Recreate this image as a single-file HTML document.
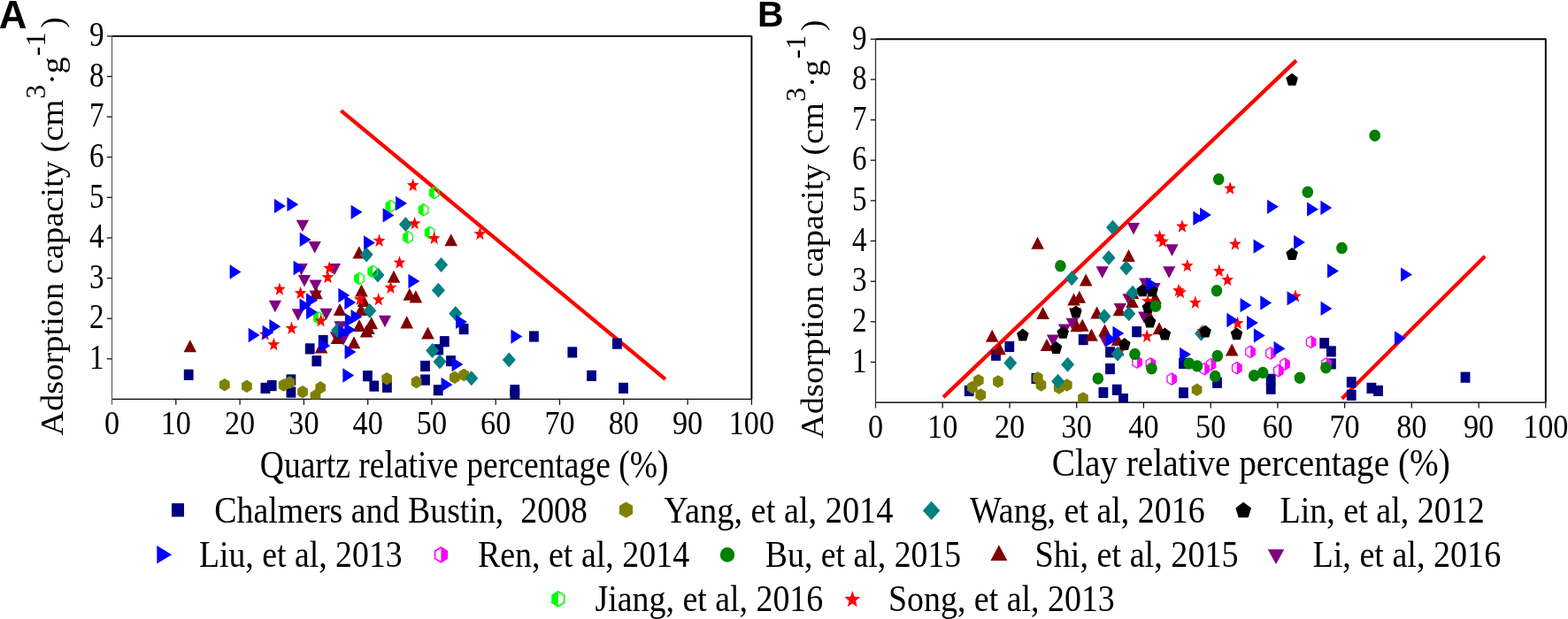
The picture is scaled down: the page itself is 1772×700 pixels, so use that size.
<!DOCTYPE html><html><head><meta charset="utf-8"><style>html,body{margin:0;padding:0;background:#fff}svg{display:block}</style></head><body><svg width="1772" height="700" viewBox="0 0 1772 700" font-family="'Liberation Serif','Times New Roman',serif">
<rect width="1772" height="700" fill="#fff"/>
<path d="M126.5 40.9 H849.4 V451.4" fill="none" stroke="#000" stroke-width="1.9" stroke-linejoin="round"/>
<path d="M126.5 451.4 H849.4" stroke="#000" stroke-width="1.1"/>
<path d="M126.5 40.9 V451.4" stroke="#666" stroke-width="1.3"/>
<path d="M120.8 405.8 H126.5" stroke="#111" stroke-width="1.3"/>
<path d="M120.8 360.2 H126.5" stroke="#111" stroke-width="1.3"/>
<path d="M120.8 314.6 H126.5" stroke="#111" stroke-width="1.3"/>
<path d="M120.8 269.0 H126.5" stroke="#111" stroke-width="1.3"/>
<path d="M120.8 223.3 H126.5" stroke="#111" stroke-width="1.3"/>
<path d="M120.8 177.7 H126.5" stroke="#111" stroke-width="1.3"/>
<path d="M120.8 132.1 H126.5" stroke="#111" stroke-width="1.3"/>
<path d="M120.8 86.5 H126.5" stroke="#111" stroke-width="1.3"/>
<path d="M120.8 40.9 H126.5" stroke="#111" stroke-width="1.3"/>
<path d="M126.5 451.4 V457.8" stroke="#666" stroke-width="1.3"/>
<path d="M198.8 451.4 V457.8" stroke="#111" stroke-width="1.3"/>
<path d="M271.1 451.4 V457.8" stroke="#111" stroke-width="1.3"/>
<path d="M343.4 451.4 V457.8" stroke="#111" stroke-width="1.3"/>
<path d="M415.7 451.4 V457.8" stroke="#111" stroke-width="1.3"/>
<path d="M487.9 451.4 V457.8" stroke="#111" stroke-width="1.3"/>
<path d="M560.2 451.4 V457.8" stroke="#111" stroke-width="1.3"/>
<path d="M632.5 451.4 V457.8" stroke="#111" stroke-width="1.3"/>
<path d="M704.8 451.4 V457.8" stroke="#111" stroke-width="1.3"/>
<path d="M777.1 451.4 V457.8" stroke="#111" stroke-width="1.3"/>
<path d="M849.4 451.4 V457.8" stroke="#111" stroke-width="1.3"/>
<text x="117.5" y="417.1" text-anchor="end" font-size="39.5" transform-origin="117.5 405.8" transform="scale(0.84,1)">1</text>
<text x="117.5" y="371.5" text-anchor="end" font-size="39.5" transform-origin="117.5 360.2" transform="scale(0.84,1)">2</text>
<text x="117.5" y="325.9" text-anchor="end" font-size="39.5" transform-origin="117.5 314.6" transform="scale(0.84,1)">3</text>
<text x="117.5" y="280.3" text-anchor="end" font-size="39.5" transform-origin="117.5 269.0" transform="scale(0.84,1)">4</text>
<text x="117.5" y="234.6" text-anchor="end" font-size="39.5" transform-origin="117.5 223.3" transform="scale(0.84,1)">5</text>
<text x="117.5" y="189.0" text-anchor="end" font-size="39.5" transform-origin="117.5 177.7" transform="scale(0.84,1)">6</text>
<text x="117.5" y="143.4" text-anchor="end" font-size="39.5" transform-origin="117.5 132.1" transform="scale(0.84,1)">7</text>
<text x="117.5" y="97.8" text-anchor="end" font-size="39.5" transform-origin="117.5 86.5" transform="scale(0.84,1)">8</text>
<text x="117.5" y="52.2" text-anchor="end" font-size="39.5" transform-origin="117.5 40.9" transform="scale(0.84,1)">9</text>
<text x="126.5" y="491" text-anchor="middle" font-size="38" transform-origin="126.5 491" transform="scale(0.9,1)">0</text>
<text x="198.8" y="491" text-anchor="middle" font-size="38" transform-origin="198.8 491" transform="scale(0.9,1)">10</text>
<text x="271.1" y="491" text-anchor="middle" font-size="38" transform-origin="271.1 491" transform="scale(0.9,1)">20</text>
<text x="343.4" y="491" text-anchor="middle" font-size="38" transform-origin="343.4 491" transform="scale(0.9,1)">30</text>
<text x="415.7" y="491" text-anchor="middle" font-size="38" transform-origin="415.7 491" transform="scale(0.9,1)">40</text>
<text x="487.9" y="491" text-anchor="middle" font-size="38" transform-origin="487.9 491" transform="scale(0.9,1)">50</text>
<text x="560.2" y="491" text-anchor="middle" font-size="38" transform-origin="560.2 491" transform="scale(0.9,1)">60</text>
<text x="632.5" y="491" text-anchor="middle" font-size="38" transform-origin="632.5 491" transform="scale(0.9,1)">70</text>
<text x="704.8" y="491" text-anchor="middle" font-size="38" transform-origin="704.8 491" transform="scale(0.9,1)">80</text>
<text x="777.1" y="491" text-anchor="middle" font-size="38" transform-origin="777.1 491" transform="scale(0.9,1)">90</text>
<text x="849.4" y="491" text-anchor="middle" font-size="38" transform-origin="849.4 491" transform="scale(0.9,1)">100</text>
<path d="M989.5 44.3 H1746.8 V455.1" fill="none" stroke="#000" stroke-width="1.9" stroke-linejoin="round"/>
<path d="M989.5 455.1 H1746.8" stroke="#333" stroke-width="1.7"/>
<path d="M989.5 44.3 V455.1" stroke="#333" stroke-width="1.3"/>
<path d="M983.8 409.5 H989.5" stroke="#111" stroke-width="1.3"/>
<path d="M983.8 363.8 H989.5" stroke="#111" stroke-width="1.3"/>
<path d="M983.8 318.2 H989.5" stroke="#111" stroke-width="1.3"/>
<path d="M983.8 272.5 H989.5" stroke="#111" stroke-width="1.3"/>
<path d="M983.8 226.9 H989.5" stroke="#111" stroke-width="1.3"/>
<path d="M983.8 181.2 H989.5" stroke="#111" stroke-width="1.3"/>
<path d="M983.8 135.6 H989.5" stroke="#111" stroke-width="1.3"/>
<path d="M983.8 89.9 H989.5" stroke="#111" stroke-width="1.3"/>
<path d="M983.8 44.3 H989.5" stroke="#111" stroke-width="1.3"/>
<path d="M989.5 455.1 V461.5" stroke="#333" stroke-width="1.3"/>
<path d="M1065.2 455.1 V461.5" stroke="#111" stroke-width="1.3"/>
<path d="M1141.0 455.1 V461.5" stroke="#111" stroke-width="1.3"/>
<path d="M1216.7 455.1 V461.5" stroke="#111" stroke-width="1.3"/>
<path d="M1292.4 455.1 V461.5" stroke="#111" stroke-width="1.3"/>
<path d="M1368.2 455.1 V461.5" stroke="#111" stroke-width="1.3"/>
<path d="M1443.9 455.1 V461.5" stroke="#111" stroke-width="1.3"/>
<path d="M1519.6 455.1 V461.5" stroke="#111" stroke-width="1.3"/>
<path d="M1595.3 455.1 V461.5" stroke="#111" stroke-width="1.3"/>
<path d="M1671.1 455.1 V461.5" stroke="#111" stroke-width="1.3"/>
<path d="M1746.8 455.1 V461.5" stroke="#111" stroke-width="1.3"/>
<text x="979.5" y="420.8" text-anchor="end" font-size="39.5" transform-origin="979.5 409.5" transform="scale(0.84,1)">1</text>
<text x="979.5" y="375.1" text-anchor="end" font-size="39.5" transform-origin="979.5 363.8" transform="scale(0.84,1)">2</text>
<text x="979.5" y="329.5" text-anchor="end" font-size="39.5" transform-origin="979.5 318.2" transform="scale(0.84,1)">3</text>
<text x="979.5" y="283.8" text-anchor="end" font-size="39.5" transform-origin="979.5 272.5" transform="scale(0.84,1)">4</text>
<text x="979.5" y="238.2" text-anchor="end" font-size="39.5" transform-origin="979.5 226.9" transform="scale(0.84,1)">5</text>
<text x="979.5" y="192.5" text-anchor="end" font-size="39.5" transform-origin="979.5 181.2" transform="scale(0.84,1)">6</text>
<text x="979.5" y="146.9" text-anchor="end" font-size="39.5" transform-origin="979.5 135.6" transform="scale(0.84,1)">7</text>
<text x="979.5" y="101.2" text-anchor="end" font-size="39.5" transform-origin="979.5 89.9" transform="scale(0.84,1)">8</text>
<text x="979.5" y="55.6" text-anchor="end" font-size="39.5" transform-origin="979.5 44.3" transform="scale(0.84,1)">9</text>
<text x="989.5" y="495" text-anchor="middle" font-size="38" transform-origin="989.5 495" transform="scale(0.9,1)">0</text>
<text x="1065.2" y="495" text-anchor="middle" font-size="38" transform-origin="1065.2 495" transform="scale(0.9,1)">10</text>
<text x="1141.0" y="495" text-anchor="middle" font-size="38" transform-origin="1141.0 495" transform="scale(0.9,1)">20</text>
<text x="1216.7" y="495" text-anchor="middle" font-size="38" transform-origin="1216.7 495" transform="scale(0.9,1)">30</text>
<text x="1292.4" y="495" text-anchor="middle" font-size="38" transform-origin="1292.4 495" transform="scale(0.9,1)">40</text>
<text x="1368.2" y="495" text-anchor="middle" font-size="38" transform-origin="1368.2 495" transform="scale(0.9,1)">50</text>
<text x="1443.9" y="495" text-anchor="middle" font-size="38" transform-origin="1443.9 495" transform="scale(0.9,1)">60</text>
<text x="1519.6" y="495" text-anchor="middle" font-size="38" transform-origin="1519.6 495" transform="scale(0.9,1)">70</text>
<text x="1595.3" y="495" text-anchor="middle" font-size="38" transform-origin="1595.3 495" transform="scale(0.9,1)">80</text>
<text x="1671.1" y="495" text-anchor="middle" font-size="38" transform-origin="1671.1 495" transform="scale(0.9,1)">90</text>
<text x="1746.8" y="495" text-anchor="middle" font-size="38" transform-origin="1746.8 495" transform="scale(0.9,1)">100</text>
<text x="-1.2" y="31.6" font-family="'Liberation Sans',Arial,sans-serif" font-weight="bold" font-size="43.8">A</text>
<text x="856" y="29.6" font-family="'Liberation Sans',Arial,sans-serif" font-weight="bold" font-size="41">B</text>
<text x="293.8" y="540.2" xml:space="preserve" font-size="44" textLength="461.8" lengthAdjust="spacingAndGlyphs">Quartz relative percentage (%)</text>
<text x="1188.8" y="538" xml:space="preserve" font-size="44" textLength="450" lengthAdjust="spacingAndGlyphs">Clay relative percentage (%)</text>
<g transform="translate(70.9,492.7) rotate(-90) scale(1,0.97)">
<text x="0" y="0" font-size="37.5" textLength="380" lengthAdjust="spacingAndGlyphs">Adsorption capacity (cm</text>
<text x="381" y="-20.6" font-size="32">3</text>
<text x="397" y="0" font-size="37.5">·g</text>
<text x="429.5" y="-20.6" font-size="32">-1</text>
<text x="461" y="0" font-size="37.5">)</text>
</g>
<g transform="translate(930.4,496) rotate(-90) scale(1,0.97)">
<text x="0" y="0" font-size="37.5" textLength="380" lengthAdjust="spacingAndGlyphs">Adsorption capacity (cm</text>
<text x="381" y="-20.6" font-size="32">3</text>
<text x="397" y="0" font-size="37.5">·g</text>
<text x="429.5" y="-20.6" font-size="32">-1</text>
<text x="461" y="0" font-size="37.5">)</text>
</g>
<text x="242.2" y="590.7" xml:space="preserve" font-size="42.5" textLength="421.8" lengthAdjust="spacingAndGlyphs">Chalmers and Bustin,  2008</text>
<text x="750.2" y="590.7" xml:space="preserve" font-size="42.5" textLength="259.3" lengthAdjust="spacingAndGlyphs">Yang, et al, 2014</text>
<text x="1096" y="590.7" xml:space="preserve" font-size="42.5" textLength="265.7" lengthAdjust="spacingAndGlyphs">Wang, et al, 2016</text>
<text x="1446.5" y="590.7" xml:space="preserve" font-size="42.5" textLength="231.4" lengthAdjust="spacingAndGlyphs">Lin, et al, 2012</text>
<text x="224.9" y="640.9" xml:space="preserve" font-size="42.5" textLength="229.8" lengthAdjust="spacingAndGlyphs">Liu, et al, 2013</text>
<text x="539.9" y="640.9" xml:space="preserve" font-size="42.5" textLength="239.3" lengthAdjust="spacingAndGlyphs">Ren, et al, 2014</text>
<text x="864.8" y="640.9" xml:space="preserve" font-size="42.5" textLength="221.4" lengthAdjust="spacingAndGlyphs">Bu, et al, 2015</text>
<text x="1169.5" y="640.9" xml:space="preserve" font-size="42.5" textLength="230.2" lengthAdjust="spacingAndGlyphs">Shi, et al, 2015</text>
<text x="1483.5" y="640.9" xml:space="preserve" font-size="42.5" textLength="212.7" lengthAdjust="spacingAndGlyphs">Li, et al, 2016</text>
<text x="672.5" y="690.7" xml:space="preserve" font-size="42.5" textLength="257.7" lengthAdjust="spacingAndGlyphs">Jiang, et al, 2016</text>
<text x="1004" y="690.7" xml:space="preserve" font-size="42.5" textLength="255.8" lengthAdjust="spacingAndGlyphs">Song, et al, 2013</text>
<clipPath id="cA"><rect x="126" y="40" width="724" height="411.4"/></clipPath><clipPath id="cB"><rect x="989" y="44" width="758" height="411.1"/></clipPath>
<g clip-path="url(#cA)">
<polygon points="334.75,248.65 349.05,248.65 341.90,262.15" fill="#800080"/>
<polygon points="348.55,273.05 362.85,273.05 355.70,286.55" fill="#800080"/>
<polygon points="333.45,298.05 347.75,298.05 340.60,311.55" fill="#800080"/>
<polygon points="370.75,298.05 385.05,298.05 377.90,311.55" fill="#800080"/>
<polygon points="336.85,311.05 351.15,311.05 344.00,324.55" fill="#800080"/>
<polygon points="349.45,316.45 363.75,316.45 356.60,329.95" fill="#800080"/>
<polygon points="349.45,328.45 363.75,328.45 356.60,341.95" fill="#800080"/>
<polygon points="303.75,339.85 318.05,339.85 310.90,353.35" fill="#800080"/>
<polygon points="329.65,349.25 343.95,349.25 336.80,362.75" fill="#800080"/>
<polygon points="361.45,348.65 375.75,348.65 368.60,362.15" fill="#800080"/>
<polygon points="377.35,363.25 391.65,363.25 384.50,376.75" fill="#800080"/>
<polygon points="372.85,375.25 387.15,375.25 380.00,388.75" fill="#800080"/>
<polygon points="380.85,377.25 395.15,377.25 388.00,390.75" fill="#800080"/>
<polygon points="427.85,356.85 442.15,356.85 435.00,370.35" fill="#800080"/>
</g>
<g clip-path="url(#cB)">
<polygon points="1273.85,251.95 1288.15,251.95 1281.00,265.45" fill="#800080"/>
<polygon points="1317.35,276.25 1331.65,276.25 1324.50,289.75" fill="#800080"/>
<polygon points="1314.05,301.35 1328.35,301.35 1321.20,314.85" fill="#800080"/>
<polygon points="1238.55,301.35 1252.85,301.35 1245.70,314.85" fill="#800080"/>
<polygon points="1287.05,314.45 1301.35,314.45 1294.20,327.95" fill="#800080"/>
<polygon points="1297.35,319.95 1311.65,319.95 1304.50,333.45" fill="#800080"/>
<polygon points="1204.65,359.85 1218.95,359.85 1211.80,373.35" fill="#800080"/>
<polygon points="1195.85,366.45 1210.15,366.45 1203.00,379.95" fill="#800080"/>
<polygon points="1182.85,378.45 1197.15,378.45 1190.00,391.95" fill="#800080"/>
<polygon points="1207.85,348.25 1222.15,348.25 1215.00,361.75" fill="#800080"/>
<polygon points="1258.65,343.05 1272.95,343.05 1265.80,356.55" fill="#800080"/>
<polygon points="1268.35,332.25 1282.65,332.25 1275.50,345.75" fill="#800080"/>
<polygon points="1286.05,352.45 1300.35,352.45 1293.20,365.95" fill="#800080"/>
<polygon points="1241.85,379.25 1256.15,379.25 1249.00,392.75" fill="#800080"/>
</g>
<path d="M385.4 125.1 L751.9 428.9" stroke="#ff0000" stroke-width="4.3"/>
<path d="M1066.1 449.1 L1464.9 68.4" stroke="#ff0000" stroke-width="4.3"/>
<path d="M1516.6 450.7 L1678.2 289.7" stroke="#ff0000" stroke-width="4.3"/>
<g clip-path="url(#cA)">
<rect x="207.80" y="417.70" width="10.80" height="12.20" fill="#000080"/>
<rect x="294.50" y="432.80" width="10.80" height="12.20" fill="#000080"/>
<rect x="301.80" y="430.00" width="10.80" height="12.20" fill="#000080"/>
<rect x="323.50" y="423.40" width="10.80" height="12.20" fill="#000080"/>
<rect x="323.50" y="437.50" width="10.80" height="12.20" fill="#000080"/>
<rect x="344.80" y="388.30" width="10.80" height="12.20" fill="#000080"/>
<rect x="352.40" y="402.10" width="10.80" height="12.20" fill="#000080"/>
<rect x="359.80" y="378.90" width="10.80" height="12.20" fill="#000080"/>
<rect x="410.00" y="419.10" width="10.80" height="12.20" fill="#000080"/>
<rect x="417.40" y="430.50" width="10.80" height="12.20" fill="#000080"/>
<rect x="432.00" y="431.70" width="10.80" height="12.20" fill="#000080"/>
<rect x="475.10" y="407.90" width="10.80" height="12.20" fill="#000080"/>
<rect x="475.10" y="423.50" width="10.80" height="12.20" fill="#000080"/>
<rect x="490.30" y="389.20" width="10.80" height="12.20" fill="#000080"/>
<rect x="496.90" y="380.10" width="10.80" height="12.20" fill="#000080"/>
<rect x="504.10" y="402.10" width="10.80" height="12.20" fill="#000080"/>
<rect x="489.80" y="435.10" width="10.80" height="12.20" fill="#000080"/>
<rect x="518.70" y="366.00" width="10.80" height="12.20" fill="#000080"/>
<rect x="576.40" y="435.00" width="10.80" height="12.20" fill="#000080"/>
<rect x="576.40" y="439.00" width="10.80" height="12.20" fill="#000080"/>
<rect x="598.00" y="374.40" width="10.80" height="12.20" fill="#000080"/>
<rect x="641.40" y="392.30" width="10.80" height="12.20" fill="#000080"/>
<rect x="663.10" y="418.80" width="10.80" height="12.20" fill="#000080"/>
<rect x="692.00" y="382.50" width="10.80" height="12.20" fill="#000080"/>
<rect x="699.10" y="432.80" width="10.80" height="12.20" fill="#000080"/>
<polygon points="253.80,427.90 259.65,431.55 259.65,438.85 253.80,442.50 247.95,438.85 247.95,431.55" fill="#808000"/>
<polygon points="278.90,429.50 284.75,433.15 284.75,440.45 278.90,444.10 273.05,440.45 273.05,433.15" fill="#808000"/>
<polygon points="320.60,428.20 326.45,431.85 326.45,439.15 320.60,442.80 314.75,439.15 314.75,431.85" fill="#808000"/>
<polygon points="327.40,425.20 333.25,428.85 333.25,436.15 327.40,439.80 321.55,436.15 321.55,428.85" fill="#808000"/>
<polygon points="342.00,435.90 347.85,439.55 347.85,446.85 342.00,450.50 336.15,446.85 336.15,439.55" fill="#808000"/>
<polygon points="356.50,440.30 362.35,443.95 362.35,451.25 356.50,454.90 350.65,451.25 350.65,443.95" fill="#808000"/>
<polygon points="362.20,431.00 368.05,434.65 368.05,441.95 362.20,445.60 356.35,441.95 356.35,434.65" fill="#808000"/>
<polygon points="437.20,420.90 443.05,424.55 443.05,431.85 437.20,435.50 431.35,431.85 431.35,424.55" fill="#808000"/>
<polygon points="470.60,424.70 476.45,428.35 476.45,435.65 470.60,439.30 464.75,435.65 464.75,428.35" fill="#808000"/>
<polygon points="513.80,419.50 519.65,423.15 519.65,430.45 513.80,434.10 507.95,430.45 507.95,423.15" fill="#808000"/>
<polygon points="524.20,416.70 530.05,420.35 530.05,427.65 524.20,431.30 518.35,427.65 518.35,420.35" fill="#808000"/>
<polygon points="214.80,384.15 222.10,398.25 207.50,398.25" fill="#800000"/>
<polygon points="357.50,324.15 364.80,338.25 350.20,338.25" fill="#800000"/>
<polygon points="363.00,385.45 370.30,399.55 355.70,399.55" fill="#800000"/>
<polygon points="384.00,342.95 391.30,357.05 376.70,357.05" fill="#800000"/>
<polygon points="381.00,374.95 388.30,389.05 373.70,389.05" fill="#800000"/>
<polygon points="400.00,380.15 407.30,394.25 392.70,394.25" fill="#800000"/>
<polygon points="405.80,278.35 413.10,292.45 398.50,292.45" fill="#800000"/>
<polygon points="408.50,321.45 415.80,335.55 401.20,335.55" fill="#800000"/>
<polygon points="411.00,332.95 418.30,347.05 403.70,347.05" fill="#800000"/>
<polygon points="408.00,342.95 415.30,357.05 400.70,357.05" fill="#800000"/>
<polygon points="406.00,360.95 413.30,375.05 398.70,375.05" fill="#800000"/>
<polygon points="419.80,358.15 427.10,372.25 412.50,372.25" fill="#800000"/>
<polygon points="414.00,367.45 421.30,381.55 406.70,381.55" fill="#800000"/>
<polygon points="416.50,363.95 423.80,378.05 409.20,378.05" fill="#800000"/>
<polygon points="445.00,305.75 452.30,319.85 437.70,319.85" fill="#800000"/>
<polygon points="459.70,357.35 467.00,371.45 452.40,371.45" fill="#800000"/>
<polygon points="462.80,325.75 470.10,339.85 455.50,339.85" fill="#800000"/>
<polygon points="469.90,328.35 477.20,342.45 462.60,342.45" fill="#800000"/>
<polygon points="483.50,369.45 490.80,383.55 476.20,383.55" fill="#800000"/>
<polygon points="509.70,264.25 517.00,278.35 502.40,278.35" fill="#800000"/>
<polygon points="414.20,279.40 421.70,287.90 414.20,296.40 406.70,287.90" fill="#008080"/>
<polygon points="427.00,302.50 434.50,311.00 427.00,319.50 419.50,311.00" fill="#008080"/>
<polygon points="458.40,245.20 465.90,253.70 458.40,262.20 450.90,253.70" fill="#008080"/>
<polygon points="381.50,365.00 389.00,373.50 381.50,382.00 374.00,373.50" fill="#008080"/>
<polygon points="417.80,343.00 425.30,351.50 417.80,360.00 410.30,351.50" fill="#008080"/>
<polygon points="488.60,388.00 496.10,396.50 488.60,405.00 481.10,396.50" fill="#008080"/>
<polygon points="497.00,400.50 504.50,409.00 497.00,417.50 489.50,409.00" fill="#008080"/>
<polygon points="498.60,291.10 506.10,299.60 498.60,308.10 491.10,299.60" fill="#008080"/>
<polygon points="495.40,319.80 502.90,328.30 495.40,336.80 487.90,328.30" fill="#008080"/>
<polygon points="514.80,346.10 522.30,354.60 514.80,363.10 507.30,354.60" fill="#008080"/>
<polygon points="532.80,419.30 540.30,427.80 532.80,436.30 525.30,427.80" fill="#008080"/>
<polygon points="575.30,398.60 582.80,407.10 575.30,415.60 567.80,407.10" fill="#008080"/>
<polygon points="360.00,352.80 360.00,366.20 354.75,362.85 354.75,356.15" fill="#00ff00"/><polygon points="360.00,352.80 365.25,356.15 365.25,362.85 360.00,366.20 354.75,362.85 354.75,356.15" fill="none" stroke="#00ff00" stroke-width="1.30" stroke-linejoin="round"/>
<polygon points="406.00,308.20 406.00,321.60 400.75,318.25 400.75,311.55" fill="#00ff00"/><polygon points="406.00,308.20 411.25,311.55 411.25,318.25 406.00,321.60 400.75,318.25 400.75,311.55" fill="none" stroke="#00ff00" stroke-width="1.30" stroke-linejoin="round"/>
<polygon points="421.20,300.20 421.20,313.60 415.95,310.25 415.95,303.55" fill="#00ff00"/><polygon points="421.20,300.20 426.45,303.55 426.45,310.25 421.20,313.60 415.95,310.25 415.95,303.55" fill="none" stroke="#00ff00" stroke-width="1.30" stroke-linejoin="round"/>
<polygon points="441.40,226.50 441.40,239.90 436.15,236.55 436.15,229.85" fill="#00ff00"/><polygon points="441.40,226.50 446.65,229.85 446.65,236.55 441.40,239.90 436.15,236.55 436.15,229.85" fill="none" stroke="#00ff00" stroke-width="1.30" stroke-linejoin="round"/>
<polygon points="461.00,261.60 461.00,275.00 455.75,271.65 455.75,264.95" fill="#00ff00"/><polygon points="461.00,261.60 466.25,264.95 466.25,271.65 461.00,275.00 455.75,271.65 455.75,264.95" fill="none" stroke="#00ff00" stroke-width="1.30" stroke-linejoin="round"/>
<polygon points="478.60,230.60 478.60,244.00 473.35,240.65 473.35,233.95" fill="#00ff00"/><polygon points="478.60,230.60 483.85,233.95 483.85,240.65 478.60,244.00 473.35,240.65 473.35,233.95" fill="none" stroke="#00ff00" stroke-width="1.30" stroke-linejoin="round"/>
<polygon points="485.60,256.40 485.60,269.80 480.35,266.45 480.35,259.75" fill="#00ff00"/><polygon points="485.60,256.40 490.85,259.75 490.85,266.45 485.60,269.80 480.35,266.45 480.35,259.75" fill="none" stroke="#00ff00" stroke-width="1.30" stroke-linejoin="round"/>
<polygon points="490.70,211.20 490.70,224.60 485.45,221.25 485.45,214.55" fill="#00ff00"/><polygon points="490.70,211.20 495.95,214.55 495.95,221.25 490.70,224.60 485.45,221.25 485.45,214.55" fill="none" stroke="#00ff00" stroke-width="1.30" stroke-linejoin="round"/>
<polygon points="299.50,370.20 301.28,375.53 306.35,375.78 302.38,379.32 303.73,384.80 299.50,381.66 295.27,384.80 296.62,379.32 292.65,375.78 297.72,375.53" fill="#ff0000"/>
<polygon points="309.40,381.70 311.18,387.03 316.25,387.28 312.28,390.82 313.63,396.30 309.40,393.16 305.17,396.30 306.52,390.82 302.55,387.28 307.62,387.03" fill="#ff0000"/>
<polygon points="315.90,319.20 317.68,324.53 322.75,324.78 318.78,328.32 320.13,333.80 315.90,330.66 311.67,333.80 313.02,328.32 309.05,324.78 314.12,324.53" fill="#ff0000"/>
<polygon points="329.50,363.50 331.28,368.83 336.35,369.08 332.38,372.62 333.73,378.10 329.50,374.96 325.27,378.10 326.62,372.62 322.65,369.08 327.72,368.83" fill="#ff0000"/>
<polygon points="339.60,323.70 341.38,329.03 346.45,329.28 342.48,332.82 343.83,338.30 339.60,335.16 335.37,338.30 336.72,332.82 332.75,329.28 337.82,329.03" fill="#ff0000"/>
<polygon points="362.60,354.90 364.38,360.23 369.45,360.48 365.48,364.02 366.83,369.50 362.60,366.36 358.37,369.50 359.72,364.02 355.75,360.48 360.82,360.23" fill="#ff0000"/>
<polygon points="370.50,305.70 372.28,311.03 377.35,311.28 373.38,314.82 374.73,320.30 370.50,317.16 366.27,320.30 367.62,314.82 363.65,311.28 368.72,311.03" fill="#ff0000"/>
<polygon points="372.20,295.30 373.98,300.63 379.05,300.88 375.08,304.42 376.43,309.90 372.20,306.76 367.97,309.90 369.32,304.42 365.35,300.88 370.42,300.63" fill="#ff0000"/>
<polygon points="406.80,330.70 408.58,336.03 413.65,336.28 409.68,339.82 411.03,345.30 406.80,342.16 402.57,345.30 403.92,339.82 399.95,336.28 405.02,336.03" fill="#ff0000"/>
<polygon points="427.80,330.90 429.58,336.23 434.65,336.48 430.68,340.02 432.03,345.50 427.80,342.36 423.57,345.50 424.92,340.02 420.95,336.48 426.02,336.23" fill="#ff0000"/>
<polygon points="428.60,264.50 430.38,269.83 435.45,270.08 431.48,273.62 432.83,279.10 428.60,275.96 424.37,279.10 425.72,273.62 421.75,270.08 426.82,269.83" fill="#ff0000"/>
<polygon points="441.50,317.50 443.28,322.83 448.35,323.08 444.38,326.62 445.73,332.10 441.50,328.96 437.27,332.10 438.62,326.62 434.65,323.08 439.72,322.83" fill="#ff0000"/>
<polygon points="451.50,289.20 453.28,294.53 458.35,294.78 454.38,298.32 455.73,303.80 451.50,300.66 447.27,303.80 448.62,298.32 444.65,294.78 449.72,294.53" fill="#ff0000"/>
<polygon points="466.70,201.70 468.48,207.03 473.55,207.28 469.58,210.82 470.93,216.30 466.70,213.16 462.47,216.30 463.82,210.82 459.85,207.28 464.92,207.03" fill="#ff0000"/>
<polygon points="468.60,244.90 470.38,250.23 475.45,250.48 471.48,254.02 472.83,259.50 468.60,256.36 464.37,259.50 465.72,254.02 461.75,250.48 466.82,250.23" fill="#ff0000"/>
<polygon points="490.70,261.60 492.48,266.93 497.55,267.18 493.58,270.72 494.93,276.20 490.70,273.06 486.47,276.20 487.82,270.72 483.85,267.18 488.92,266.93" fill="#ff0000"/>
<polygon points="542.40,256.60 544.18,261.93 549.25,262.18 545.28,265.72 546.63,271.20 542.40,268.06 538.17,271.20 539.52,265.72 535.55,262.18 540.62,261.93" fill="#ff0000"/>
<polygon points="259.65,299.35 272.55,307.50 259.65,315.65" fill="#0000ff"/>
<polygon points="280.75,370.85 293.65,379.00 280.75,387.15" fill="#0000ff"/>
<polygon points="296.55,367.85 309.45,376.00 296.55,384.15" fill="#0000ff"/>
<polygon points="304.35,361.05 317.25,369.20 304.35,377.35" fill="#0000ff"/>
<polygon points="309.95,224.85 322.85,233.00 309.95,241.15" fill="#0000ff"/>
<polygon points="324.45,223.05 337.35,231.20 324.45,239.35" fill="#0000ff"/>
<polygon points="331.65,294.85 344.55,303.00 331.65,311.15" fill="#0000ff"/>
<polygon points="338.75,262.75 351.65,270.90 338.75,279.05" fill="#0000ff"/>
<polygon points="338.55,337.45 351.45,345.60 338.55,353.75" fill="#0000ff"/>
<polygon points="346.05,331.35 358.95,339.50 346.05,347.65" fill="#0000ff"/>
<polygon points="346.05,344.85 358.95,353.00 346.05,361.15" fill="#0000ff"/>
<polygon points="360.35,382.85 373.25,391.00 360.35,399.15" fill="#0000ff"/>
<polygon points="382.35,325.85 395.25,334.00 382.35,342.15" fill="#0000ff"/>
<polygon points="389.35,333.85 402.25,342.00 389.35,350.15" fill="#0000ff"/>
<polygon points="396.55,350.05 409.45,358.20 396.55,366.35" fill="#0000ff"/>
<polygon points="389.85,353.95 402.75,362.10 389.85,370.25" fill="#0000ff"/>
<polygon points="382.25,367.55 395.15,375.70 382.25,383.85" fill="#0000ff"/>
<polygon points="389.25,364.95 402.15,373.10 389.25,381.25" fill="#0000ff"/>
<polygon points="389.55,389.85 402.45,398.00 389.55,406.15" fill="#0000ff"/>
<polygon points="387.35,416.35 400.25,424.50 387.35,432.65" fill="#0000ff"/>
<polygon points="396.65,231.65 409.55,239.80 396.65,247.95" fill="#0000ff"/>
<polygon points="411.05,266.35 423.95,274.50 411.05,282.65" fill="#0000ff"/>
<polygon points="432.65,235.25 445.55,243.40 432.65,251.55" fill="#0000ff"/>
<polygon points="447.15,221.85 460.05,230.00 447.15,238.15" fill="#0000ff"/>
<polygon points="461.45,309.85 474.35,318.00 461.45,326.15" fill="#0000ff"/>
<polygon points="498.55,426.85 511.45,435.00 498.55,443.15" fill="#0000ff"/>
<polygon points="510.55,403.85 523.45,412.00 510.55,420.15" fill="#0000ff"/>
<polygon points="515.05,355.75 527.95,363.90 515.05,372.05" fill="#0000ff"/>
<polygon points="577.45,372.45 590.35,380.60 577.45,388.75" fill="#0000ff"/>
</g>
<g clip-path="url(#cB)">
<polygon points="1266.00,388.70 1267.78,394.03 1272.85,394.28 1268.88,397.82 1270.23,403.30 1266.00,400.16 1261.77,403.30 1263.12,397.82 1259.15,394.28 1264.22,394.03" fill="#ff0000"/>
<rect x="1089.80" y="435.90" width="10.80" height="12.20" fill="#000080"/>
<rect x="1120.10" y="395.70" width="10.80" height="12.20" fill="#000080"/>
<rect x="1135.40" y="385.90" width="10.80" height="12.20" fill="#000080"/>
<rect x="1165.50" y="421.90" width="10.80" height="12.20" fill="#000080"/>
<rect x="1218.80" y="378.00" width="10.80" height="12.20" fill="#000080"/>
<rect x="1241.50" y="437.80" width="10.80" height="12.20" fill="#000080"/>
<rect x="1249.10" y="392.10" width="10.80" height="12.20" fill="#000080"/>
<rect x="1249.10" y="411.00" width="10.80" height="12.20" fill="#000080"/>
<rect x="1256.80" y="434.70" width="10.80" height="12.20" fill="#000080"/>
<rect x="1264.10" y="445.00" width="10.80" height="12.20" fill="#000080"/>
<rect x="1279.20" y="369.10" width="10.80" height="12.20" fill="#000080"/>
<rect x="1332.10" y="404.90" width="10.80" height="12.20" fill="#000080"/>
<rect x="1332.10" y="438.10" width="10.80" height="12.20" fill="#000080"/>
<rect x="1370.10" y="426.70" width="10.80" height="12.20" fill="#000080"/>
<rect x="1430.80" y="422.80" width="10.80" height="12.20" fill="#000080"/>
<rect x="1430.80" y="433.60" width="10.80" height="12.20" fill="#000080"/>
<rect x="1491.30" y="382.00" width="10.80" height="12.20" fill="#000080"/>
<rect x="1499.00" y="391.30" width="10.80" height="12.20" fill="#000080"/>
<rect x="1499.00" y="405.30" width="10.80" height="12.20" fill="#000080"/>
<rect x="1521.80" y="426.10" width="10.80" height="12.20" fill="#000080"/>
<rect x="1521.80" y="440.80" width="10.80" height="12.20" fill="#000080"/>
<rect x="1544.50" y="432.80" width="10.80" height="12.20" fill="#000080"/>
<rect x="1552.10" y="435.80" width="10.80" height="12.20" fill="#000080"/>
<rect x="1650.60" y="420.60" width="10.80" height="12.20" fill="#000080"/>
<polygon points="1105.80,422.90 1111.65,426.55 1111.65,433.85 1105.80,437.50 1099.95,433.85 1099.95,426.55" fill="#808000"/>
<polygon points="1098.80,430.70 1104.65,434.35 1104.65,441.65 1098.80,445.30 1092.95,441.65 1092.95,434.35" fill="#808000"/>
<polygon points="1108.20,439.20 1114.05,442.85 1114.05,450.15 1108.20,453.80 1102.35,450.15 1102.35,442.85" fill="#808000"/>
<polygon points="1127.90,424.20 1133.75,427.85 1133.75,435.15 1127.90,438.80 1122.05,435.15 1122.05,427.85" fill="#808000"/>
<polygon points="1172.80,420.20 1178.65,423.85 1178.65,431.15 1172.80,434.80 1166.95,431.15 1166.95,423.85" fill="#808000"/>
<polygon points="1176.50,428.10 1182.35,431.75 1182.35,439.05 1176.50,442.70 1170.65,439.05 1170.65,431.75" fill="#808000"/>
<polygon points="1196.80,431.20 1202.65,434.85 1202.65,442.15 1196.80,445.80 1190.95,442.15 1190.95,434.85" fill="#808000"/>
<polygon points="1205.80,428.20 1211.65,431.85 1211.65,439.15 1205.80,442.80 1199.95,439.15 1199.95,431.85" fill="#808000"/>
<polygon points="1224.00,443.20 1229.85,446.85 1229.85,454.15 1224.00,457.80 1218.15,454.15 1218.15,446.85" fill="#808000"/>
<polygon points="1352.60,433.50 1358.45,437.15 1358.45,444.45 1352.60,448.10 1346.75,444.45 1346.75,437.15" fill="#808000"/>
<polygon points="1285.10,402.90 1290.35,406.25 1290.35,412.95 1285.10,416.30" fill="#ff00ff"/><polygon points="1285.10,402.90 1290.35,406.25 1290.35,412.95 1285.10,416.30 1279.85,412.95 1279.85,406.25" fill="none" stroke="#ff00ff" stroke-width="1.30" stroke-linejoin="round"/>
<polygon points="1300.40,404.80 1305.65,408.15 1305.65,414.85 1300.40,418.20" fill="#ff00ff"/><polygon points="1300.40,404.80 1305.65,408.15 1305.65,414.85 1300.40,418.20 1295.15,414.85 1295.15,408.15" fill="none" stroke="#ff00ff" stroke-width="1.30" stroke-linejoin="round"/>
<polygon points="1324.20,421.90 1329.45,425.25 1329.45,431.95 1324.20,435.30" fill="#ff00ff"/><polygon points="1324.20,421.90 1329.45,425.25 1329.45,431.95 1324.20,435.30 1318.95,431.95 1318.95,425.25" fill="none" stroke="#ff00ff" stroke-width="1.30" stroke-linejoin="round"/>
<polygon points="1361.20,410.50 1366.45,413.85 1366.45,420.55 1361.20,423.90" fill="#ff00ff"/><polygon points="1361.20,410.50 1366.45,413.85 1366.45,420.55 1361.20,423.90 1355.95,420.55 1355.95,413.85" fill="none" stroke="#ff00ff" stroke-width="1.30" stroke-linejoin="round"/>
<polygon points="1368.50,405.50 1373.75,408.85 1373.75,415.55 1368.50,418.90" fill="#ff00ff"/><polygon points="1368.50,405.50 1373.75,408.85 1373.75,415.55 1368.50,418.90 1363.25,415.55 1363.25,408.85" fill="none" stroke="#ff00ff" stroke-width="1.30" stroke-linejoin="round"/>
<polygon points="1397.80,409.50 1403.05,412.85 1403.05,419.55 1397.80,422.90" fill="#ff00ff"/><polygon points="1397.80,409.50 1403.05,412.85 1403.05,419.55 1397.80,422.90 1392.55,419.55 1392.55,412.85" fill="none" stroke="#ff00ff" stroke-width="1.30" stroke-linejoin="round"/>
<polygon points="1413.10,391.10 1418.35,394.45 1418.35,401.15 1413.10,404.50" fill="#ff00ff"/><polygon points="1413.10,391.10 1418.35,394.45 1418.35,401.15 1413.10,404.50 1407.85,401.15 1407.85,394.45" fill="none" stroke="#ff00ff" stroke-width="1.30" stroke-linejoin="round"/>
<polygon points="1436.00,392.80 1441.25,396.15 1441.25,402.85 1436.00,406.20" fill="#ff00ff"/><polygon points="1436.00,392.80 1441.25,396.15 1441.25,402.85 1436.00,406.20 1430.75,402.85 1430.75,396.15" fill="none" stroke="#ff00ff" stroke-width="1.30" stroke-linejoin="round"/>
<polygon points="1444.90,412.50 1450.15,415.85 1450.15,422.55 1444.90,425.90" fill="#ff00ff"/><polygon points="1444.90,412.50 1450.15,415.85 1450.15,422.55 1444.90,425.90 1439.65,422.55 1439.65,415.85" fill="none" stroke="#ff00ff" stroke-width="1.30" stroke-linejoin="round"/>
<polygon points="1452.00,405.10 1457.25,408.45 1457.25,415.15 1452.00,418.50" fill="#ff00ff"/><polygon points="1452.00,405.10 1457.25,408.45 1457.25,415.15 1452.00,418.50 1446.75,415.15 1446.75,408.45" fill="none" stroke="#ff00ff" stroke-width="1.30" stroke-linejoin="round"/>
<polygon points="1481.60,380.10 1486.85,383.45 1486.85,390.15 1481.60,393.50" fill="#ff00ff"/><polygon points="1481.60,380.10 1486.85,383.45 1486.85,390.15 1481.60,393.50 1476.35,390.15 1476.35,383.45" fill="none" stroke="#ff00ff" stroke-width="1.30" stroke-linejoin="round"/>
<polygon points="1498.90,404.80 1504.15,408.15 1504.15,414.85 1498.90,418.20" fill="#ff00ff"/><polygon points="1498.90,404.80 1504.15,408.15 1504.15,414.85 1498.90,418.20 1493.65,414.85 1493.65,408.15" fill="none" stroke="#ff00ff" stroke-width="1.30" stroke-linejoin="round"/>
<polygon points="1172.60,267.75 1179.90,281.85 1165.30,281.85" fill="#800000"/>
<polygon points="1227.20,309.45 1234.50,323.55 1219.90,323.55" fill="#800000"/>
<polygon points="1213.50,331.45 1220.80,345.55 1206.20,345.55" fill="#800000"/>
<polygon points="1219.80,328.75 1227.10,342.85 1212.50,342.85" fill="#800000"/>
<polygon points="1178.60,346.95 1185.90,361.05 1171.30,361.05" fill="#800000"/>
<polygon points="1239.60,346.45 1246.90,360.55 1232.30,360.55" fill="#800000"/>
<polygon points="1216.80,361.15 1224.10,375.25 1209.50,375.25" fill="#800000"/>
<polygon points="1223.20,360.55 1230.50,374.65 1215.90,374.65" fill="#800000"/>
<polygon points="1233.50,371.55 1240.80,385.65 1226.20,385.65" fill="#800000"/>
<polygon points="1248.50,366.45 1255.80,380.55 1241.20,380.55" fill="#800000"/>
<polygon points="1121.20,372.75 1128.50,386.85 1113.90,386.85" fill="#800000"/>
<polygon points="1129.50,387.15 1136.80,401.25 1122.20,401.25" fill="#800000"/>
<polygon points="1183.00,382.95 1190.30,397.05 1175.70,397.05" fill="#800000"/>
<polygon points="1275.50,281.95 1282.80,296.05 1268.20,296.05" fill="#800000"/>
<polygon points="1279.50,333.95 1286.80,348.05 1272.20,348.05" fill="#800000"/>
<polygon points="1265.00,343.15 1272.30,357.25 1257.70,357.25" fill="#800000"/>
<polygon points="1280.00,323.95 1287.30,338.05 1272.70,338.05" fill="#800000"/>
<polygon points="1305.50,329.45 1312.80,343.55 1298.20,343.55" fill="#800000"/>
<polygon points="1299.00,349.95 1306.30,364.05 1291.70,364.05" fill="#800000"/>
<polygon points="1310.00,364.15 1317.30,378.25 1302.70,378.25" fill="#800000"/>
<polygon points="1263.00,376.95 1270.30,391.05 1255.70,391.05" fill="#800000"/>
<polygon points="1392.20,388.45 1399.50,402.55 1384.90,402.55" fill="#800000"/>
<polygon points="1257.50,248.70 1265.00,257.20 1257.50,265.70 1250.00,257.20" fill="#008080"/>
<polygon points="1253.00,283.00 1260.50,291.50 1253.00,300.00 1245.50,291.50" fill="#008080"/>
<polygon points="1272.80,294.50 1280.30,303.00 1272.80,311.50 1265.30,303.00" fill="#008080"/>
<polygon points="1211.20,306.30 1218.70,314.80 1211.20,323.30 1203.70,314.80" fill="#008080"/>
<polygon points="1280.00,322.70 1287.50,331.20 1280.00,339.70 1272.50,331.20" fill="#008080"/>
<polygon points="1248.00,349.30 1255.50,357.80 1248.00,366.30 1240.50,357.80" fill="#008080"/>
<polygon points="1275.80,346.30 1283.30,354.80 1275.80,363.30 1268.30,354.80" fill="#008080"/>
<polygon points="1141.80,402.10 1149.30,410.60 1141.80,419.10 1134.30,410.60" fill="#008080"/>
<polygon points="1206.60,403.70 1214.10,412.20 1206.60,420.70 1199.10,412.20" fill="#008080"/>
<polygon points="1195.60,422.70 1203.10,431.20 1195.60,439.70 1188.10,431.20" fill="#008080"/>
<polygon points="1263.00,391.70 1270.50,400.20 1263.00,408.70 1255.50,400.20" fill="#008080"/>
<polygon points="1357.50,368.70 1365.00,377.20 1357.50,385.70 1350.00,377.20" fill="#008080"/>
<polygon points="1390.10,205.20 1391.88,210.53 1396.95,210.78 1392.98,214.32 1394.33,219.80 1390.10,216.66 1385.87,219.80 1387.22,214.32 1383.25,210.78 1388.32,210.53" fill="#ff0000"/>
<polygon points="1336.00,248.20 1337.78,253.53 1342.85,253.78 1338.88,257.32 1340.23,262.80 1336.00,259.66 1331.77,262.80 1333.12,257.32 1329.15,253.78 1334.22,253.53" fill="#ff0000"/>
<polygon points="1310.50,259.70 1312.28,265.03 1317.35,265.28 1313.38,268.82 1314.73,274.30 1310.50,271.16 1306.27,274.30 1307.62,268.82 1303.65,265.28 1308.72,265.03" fill="#ff0000"/>
<polygon points="1314.00,265.20 1315.78,270.53 1320.85,270.78 1316.88,274.32 1318.23,279.80 1314.00,276.66 1309.77,279.80 1311.12,274.32 1307.15,270.78 1312.22,270.53" fill="#ff0000"/>
<polygon points="1395.90,268.10 1397.68,273.43 1402.75,273.68 1398.78,277.22 1400.13,282.70 1395.90,279.56 1391.67,282.70 1393.02,277.22 1389.05,273.68 1394.12,273.43" fill="#ff0000"/>
<polygon points="1341.80,292.70 1343.58,298.03 1348.65,298.28 1344.68,301.82 1346.03,307.30 1341.80,304.16 1337.57,307.30 1338.92,301.82 1334.95,298.28 1340.02,298.03" fill="#ff0000"/>
<polygon points="1377.80,298.60 1379.58,303.93 1384.65,304.18 1380.68,307.72 1382.03,313.20 1377.80,310.06 1373.57,313.20 1374.92,307.72 1370.95,304.18 1376.02,303.93" fill="#ff0000"/>
<polygon points="1387.20,308.70 1388.98,314.03 1394.05,314.28 1390.08,317.82 1391.43,323.30 1387.20,320.16 1382.97,323.30 1384.32,317.82 1380.35,314.28 1385.42,314.03" fill="#ff0000"/>
<polygon points="1332.00,320.70 1333.78,326.03 1338.85,326.28 1334.88,329.82 1336.23,335.30 1332.00,332.16 1327.77,335.30 1329.12,329.82 1325.15,326.28 1330.22,326.03" fill="#ff0000"/>
<polygon points="1334.00,322.70 1335.78,328.03 1340.85,328.28 1336.88,331.82 1338.23,337.30 1334.00,334.16 1329.77,337.30 1331.12,331.82 1327.15,328.28 1332.22,328.03" fill="#ff0000"/>
<polygon points="1350.80,334.30 1352.58,339.63 1357.65,339.88 1353.68,343.42 1355.03,348.90 1350.80,345.76 1346.57,348.90 1347.92,343.42 1343.95,339.88 1349.02,339.63" fill="#ff0000"/>
<polygon points="1297.00,332.70 1298.78,338.03 1303.85,338.28 1299.88,341.82 1301.23,347.30 1297.00,344.16 1292.77,347.30 1294.12,341.82 1290.15,338.28 1295.22,338.03" fill="#ff0000"/>
<polygon points="1296.20,372.50 1297.98,377.83 1303.05,378.08 1299.08,381.62 1300.43,387.10 1296.20,383.96 1291.97,387.10 1293.32,381.62 1289.35,378.08 1294.42,377.83" fill="#ff0000"/>
<polygon points="1398.60,357.70 1400.38,363.03 1405.45,363.28 1401.48,366.82 1402.83,372.30 1398.60,369.16 1394.37,372.30 1395.72,366.82 1391.75,363.28 1396.82,363.03" fill="#ff0000"/>
<polygon points="1464.00,327.20 1465.78,332.53 1470.85,332.78 1466.88,336.32 1468.23,341.80 1464.00,338.66 1459.77,341.80 1461.12,336.32 1457.15,332.78 1462.22,332.53" fill="#ff0000"/>
<polygon points="1359.00,366.70 1360.78,372.03 1365.85,372.28 1361.88,375.82 1363.23,381.30 1359.00,378.16 1354.77,381.30 1356.12,375.82 1352.15,372.28 1357.22,372.03" fill="#ff0000"/>
<polygon points="1460.10,82.70 1466.90,88.05 1464.30,96.70 1455.90,96.70 1453.30,88.05" fill="#000000"/>
<polygon points="1460.10,280.00 1466.90,285.35 1464.30,294.00 1455.90,294.00 1453.30,285.35" fill="#000000"/>
<polygon points="1155.80,371.50 1162.60,376.85 1160.00,385.50 1151.60,385.50 1149.00,376.85" fill="#000000"/>
<polygon points="1193.50,386.00 1200.30,391.35 1197.70,400.00 1189.30,400.00 1186.70,391.35" fill="#000000"/>
<polygon points="1201.20,368.80 1208.00,374.15 1205.40,382.80 1197.00,382.80 1194.40,374.15" fill="#000000"/>
<polygon points="1215.90,345.50 1222.70,350.85 1220.10,359.50 1211.70,359.50 1209.10,350.85" fill="#000000"/>
<polygon points="1270.80,382.00 1277.60,387.35 1275.00,396.00 1266.60,396.00 1264.00,387.35" fill="#000000"/>
<polygon points="1291.20,321.20 1298.00,326.55 1295.40,335.20 1287.00,335.20 1284.40,326.55" fill="#000000"/>
<polygon points="1302.00,321.50 1308.80,326.85 1306.20,335.50 1297.80,335.50 1295.20,326.85" fill="#000000"/>
<polygon points="1297.50,340.30 1304.30,345.65 1301.70,354.30 1293.30,354.30 1290.70,345.65" fill="#000000"/>
<polygon points="1299.50,356.50 1306.30,361.85 1303.70,370.50 1295.30,370.50 1292.70,361.85" fill="#000000"/>
<polygon points="1316.40,370.50 1323.20,375.85 1320.60,384.50 1312.20,384.50 1309.60,375.85" fill="#000000"/>
<polygon points="1362.10,367.60 1368.90,372.95 1366.30,381.60 1357.90,381.60 1355.30,372.95" fill="#000000"/>
<polygon points="1397.50,370.20 1404.30,375.55 1401.70,384.20 1393.30,384.20 1390.70,375.55" fill="#000000"/>
<polygon points="1348.35,238.65 1361.25,246.80 1348.35,254.95" fill="#0000ff"/>
<polygon points="1356.05,234.85 1368.95,243.00 1356.05,251.15" fill="#0000ff"/>
<polygon points="1432.05,225.65 1444.95,233.80 1432.05,241.95" fill="#0000ff"/>
<polygon points="1477.05,228.55 1489.95,236.70 1477.05,244.85" fill="#0000ff"/>
<polygon points="1492.35,226.85 1505.25,235.00 1492.35,243.15" fill="#0000ff"/>
<polygon points="1416.55,270.45 1429.45,278.60 1416.55,286.75" fill="#0000ff"/>
<polygon points="1462.05,265.85 1474.95,274.00 1462.05,282.15" fill="#0000ff"/>
<polygon points="1500.05,298.25 1512.95,306.40 1500.05,314.55" fill="#0000ff"/>
<polygon points="1583.05,302.45 1595.95,310.60 1583.05,318.75" fill="#0000ff"/>
<polygon points="1295.35,313.45 1308.25,321.60 1295.35,329.75" fill="#0000ff"/>
<polygon points="1401.55,337.05 1414.45,345.20 1401.55,353.35" fill="#0000ff"/>
<polygon points="1424.25,334.35 1437.15,342.50 1424.25,350.65" fill="#0000ff"/>
<polygon points="1454.55,329.25 1467.45,337.40 1454.55,345.55" fill="#0000ff"/>
<polygon points="1492.55,340.75 1505.45,348.90 1492.55,357.05" fill="#0000ff"/>
<polygon points="1386.35,353.85 1399.25,362.00 1386.35,370.15" fill="#0000ff"/>
<polygon points="1409.05,356.95 1421.95,365.10 1409.05,373.25" fill="#0000ff"/>
<polygon points="1416.85,371.35 1429.75,379.50 1416.85,387.65" fill="#0000ff"/>
<polygon points="1439.55,386.05 1452.45,394.20 1439.55,402.35" fill="#0000ff"/>
<polygon points="1333.15,392.65 1346.05,400.80 1333.15,408.95" fill="#0000ff"/>
<polygon points="1257.45,368.85 1270.35,377.00 1257.45,385.15" fill="#0000ff"/>
<polygon points="1249.75,375.85 1262.65,384.00 1249.75,392.15" fill="#0000ff"/>
<polygon points="1575.95,374.35 1588.85,382.50 1575.95,390.65" fill="#0000ff"/>
<ellipse cx="1553.70" cy="153.30" rx="6.30" ry="6.70" fill="#008000"/>
<ellipse cx="1377.20" cy="202.80" rx="6.30" ry="6.70" fill="#008000"/>
<ellipse cx="1477.80" cy="217.20" rx="6.30" ry="6.70" fill="#008000"/>
<ellipse cx="1516.40" cy="280.40" rx="6.30" ry="6.70" fill="#008000"/>
<ellipse cx="1198.40" cy="300.80" rx="6.30" ry="6.70" fill="#008000"/>
<ellipse cx="1375.00" cy="328.80" rx="6.30" ry="6.70" fill="#008000"/>
<ellipse cx="1306.00" cy="346.20" rx="6.30" ry="6.70" fill="#008000"/>
<ellipse cx="1282.50" cy="400.40" rx="6.30" ry="6.70" fill="#008000"/>
<ellipse cx="1301.40" cy="416.80" rx="6.30" ry="6.70" fill="#008000"/>
<ellipse cx="1343.80" cy="411.00" rx="6.30" ry="6.70" fill="#008000"/>
<ellipse cx="1353.00" cy="413.90" rx="6.30" ry="6.70" fill="#008000"/>
<ellipse cx="1375.80" cy="402.50" rx="6.30" ry="6.70" fill="#008000"/>
<ellipse cx="1373.20" cy="425.50" rx="6.30" ry="6.70" fill="#008000"/>
<ellipse cx="1240.80" cy="428.00" rx="6.30" ry="6.70" fill="#008000"/>
<ellipse cx="1417.20" cy="424.80" rx="6.30" ry="6.70" fill="#008000"/>
<ellipse cx="1427.20" cy="421.40" rx="6.30" ry="6.70" fill="#008000"/>
<ellipse cx="1468.90" cy="427.20" rx="6.30" ry="6.70" fill="#008000"/>
<ellipse cx="1498.40" cy="415.80" rx="6.30" ry="6.70" fill="#008000"/>
</g>
<rect x="193.98" y="569.17" width="14.04" height="15.25" fill="#000080"/>
<polygon points="707.50,567.48 715.11,572.04 715.11,581.16 707.50,585.73 699.89,581.16 699.89,572.04" fill="#808000"/>
<polygon points="1052.60,566.77 1062.35,577.40 1052.60,588.02 1042.85,577.40" fill="#008080"/>
<polygon points="1405.20,567.75 1414.04,574.43 1410.66,585.25 1399.74,585.25 1396.36,574.43" fill="#000000"/>
<polygon points="177.31,617.11 194.08,627.30 177.31,637.49" fill="#0000ff"/>
<polygon points="498.40,619.02 505.22,623.21 505.22,631.59 498.40,635.77" fill="#ff00ff"/><polygon points="498.40,619.02 505.22,623.21 505.22,631.59 498.40,635.77 491.57,631.59 491.57,623.21" fill="none" stroke="#ff00ff" stroke-width="1.66" stroke-linejoin="round"/>
<ellipse cx="822.00" cy="627.40" rx="8.19" ry="8.38" fill="#008000"/>
<polygon points="1128.90,616.29 1138.39,633.91 1119.41,633.91" fill="#800000"/>
<polygon points="1432.70,621.16 1451.30,621.16 1442.00,638.04" fill="#800080"/>
<polygon points="630.80,668.92 630.80,685.67 623.97,681.49 623.97,673.11" fill="#00ff00"/><polygon points="630.80,668.92 637.62,673.11 637.62,681.49 630.80,685.67 623.97,681.49 623.97,673.11" fill="none" stroke="#00ff00" stroke-width="1.66" stroke-linejoin="round"/>
<polygon points="963.30,668.08 965.61,674.74 972.20,675.05 967.04,679.48 968.80,686.33 963.30,682.40 957.80,686.33 959.56,679.48 954.39,675.05 960.99,674.74" fill="#ff0000"/>
</svg></body></html>
